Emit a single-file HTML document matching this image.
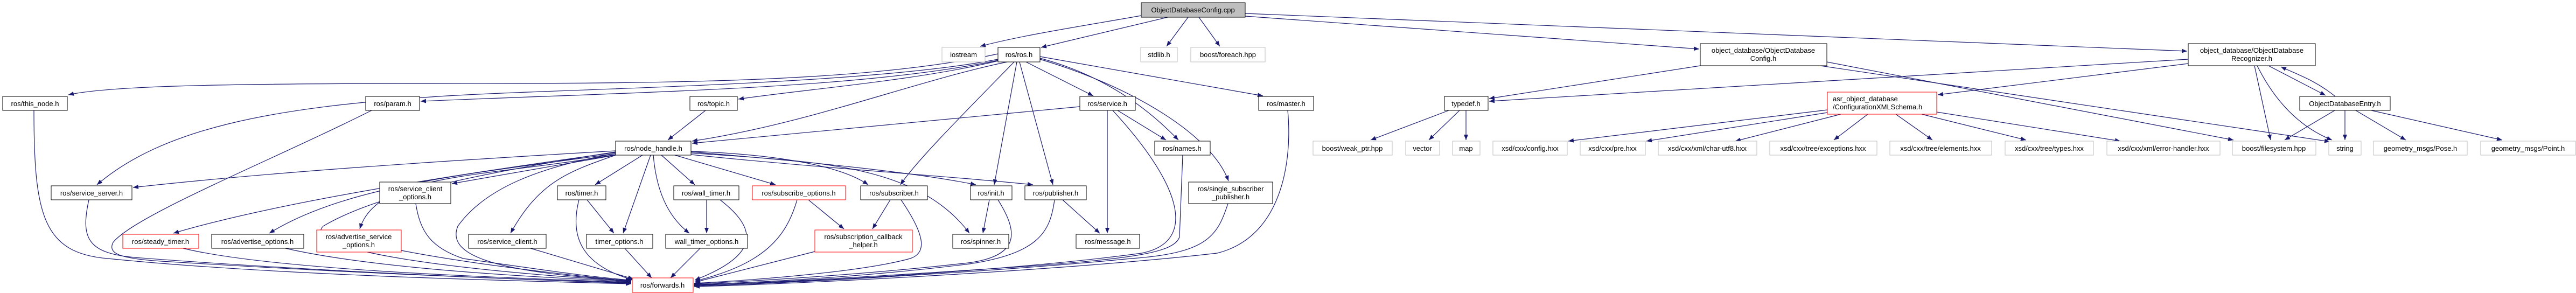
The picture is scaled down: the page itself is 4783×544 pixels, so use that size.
<!DOCTYPE html>
<html><head><meta charset="utf-8">
<style>
html,body{margin:0;padding:0;background:#fff;}
svg{display:block;}
text{font-family:"Liberation Sans",sans-serif;font-size:13px;fill:#000;}
.e{fill:none;stroke:#191970;stroke-width:1.2;marker-end:url(#a);}
.n{fill:#fff;stroke:#000;stroke-width:1;}
.r{fill:#fff;stroke:#ff0000;stroke-width:1;}
.g{fill:#fff;stroke:#bfbfbf;stroke-width:1;}
</style></head><body>
<svg width="4783" height="544" viewBox="0 0 4783 544" xmlns="http://www.w3.org/2000/svg">
<defs><marker id="a" markerUnits="userSpaceOnUse" markerWidth="11" markerHeight="8" refX="10" refY="4" orient="auto"><path d="M0,0 L10,4 L0,8 z" fill="#191970"/></marker></defs>
<!-- edges -->
<g>
<path class="e" d="M2119,29 C2000,50 1900,65 1820,86"/>
<path class="e" d="M2168,32 L1933,88"/>
<path class="e" d="M2206,32 L2166,86"/>
<path class="e" d="M2226,32 L2265,86"/>
<path class="e" d="M2312,30 L3155,91"/>
<path class="e" d="M2312,25 L4061,95"/>
<path class="e" d="M1853,100 C1600,155 1200,155 800,155 C400,155 200,160 127,176"/>
<path class="e" d="M1853,110 C1600,160 1000,165 800,180 C500,200 300,240 180,343"/>
<path class="e" d="M1853,112 C1600,165 1200,170 781,188"/>
<path class="e" d="M1853,113 C1700,150 1500,165 1371,184"/>
<path class="e" d="M1870,115 C1700,150 1500,230 1285,262"/>
<path class="e" d="M1883,115 C1800,200 1700,300 1672,343"/>
<path class="e" d="M1888,115 L1846,343"/>
<path class="e" d="M1893,115 L1955,343"/>
<path class="e" d="M1905,115 L2030,178"/>
<path class="e" d="M1931,108 C2050,140 2130,200 2188,260"/>
<path class="e" d="M1931,110 C2100,160 2250,250 2281,336"/>
<path class="e" d="M1931,105 L2345,178"/>
<path class="e" d="M2005,198 L1285,266"/>
<path class="e" d="M1310,205 L1240,260"/>
<path class="e" d="M2075,205 L2165,260"/>
<path class="e" d="M2056,205 L2056,433"/>
<path class="e" d="M1973,371 L2042,433"/>
<path class="e" d="M1837,371 L1825,433"/>
<path class="e" d="M1653,371 L1620,425"/>
<path class="e" d="M1501,371 L1567,425"/>
<path class="e" d="M1090,371 L1140,433"/>
<path class="e" d="M1312,371 L1312,433"/>
<path class="e" d="M1143,280 C800,300 500,320 247,348"/>
<path class="e" d="M1143,283 C800,330 500,380 322,433"/>
<path class="e" d="M1143,285 C900,320 650,340 500,433"/>
<path class="e" d="M1143,287 C900,330 700,320 668,425"/>
<path class="e" d="M1143,288 L839,341"/>
<path class="e" d="M1143,288 C1050,320 1000,340 948,433"/>
<path class="e" d="M1193,288 L1105,343"/>
<path class="e" d="M1208,288 L1157,433"/>
<path class="e" d="M1213,288 C1220,370 1250,410 1280,433"/>
<path class="e" d="M1228,288 L1290,343"/>
<path class="e" d="M1253,288 L1440,343"/>
<path class="e" d="M1283,281 C1400,285 1550,300 1612,343"/>
<path class="e" d="M1283,282 C1500,300 1700,320 1812,343"/>
<path class="e" d="M1283,287 C1500,310 1800,330 1918,343"/>
<path class="e" d="M1283,284 C1500,300 1700,300 1800,433"/>
<path class="e" d="M1143,285 C1000,310 900,350 850,420 C830,470 900,505 1172,521"/>
<path class="e" d="M1143,282 C900,320 700,360 600,420 C560,460 800,500 1172,522"/>
<path class="e" d="M63,205 C63,400 80,470 200,480 C500,510 900,520 1172,527"/>
<path class="e" d="M165,371 C150,440 160,470 250,478 C600,505 1000,520 1172,526"/>
<path class="e" d="M690,205 C500,300 250,400 210,450 C200,470 220,480 300,485 C700,510 1000,520 1172,525"/>
<path class="e" d="M340,461 C500,500 900,515 1172,524"/>
<path class="e" d="M530,461 C700,500 1000,515 1172,523"/>
<path class="e" d="M745,465 C900,495 1100,515 1172,522"/>
<path class="e" d="M772,378 C780,430 800,460 860,480 C1000,500 1100,515 1172,520"/>
<path class="e" d="M985,461 L1176,518"/>
<path class="e" d="M1075,371 C1060,430 1070,490 1176,520"/>
<path class="e" d="M1160,461 L1210,516"/>
<path class="e" d="M1300,461 L1245,516"/>
<path class="e" d="M1337,371 C1400,420 1420,470 1290,520"/>
<path class="e" d="M1480,371 C1460,440 1420,490 1290,522"/>
<path class="e" d="M1513,467 L1290,524"/>
<path class="e" d="M1673,371 C1720,440 1720,470 1690,480 C1600,505 1400,520 1289,526"/>
<path class="e" d="M1853,371 C1890,430 1900,480 1780,490 C1600,510 1400,522 1289,527"/>
<path class="e" d="M1958,371 C1950,430 1930,470 1800,490 C1600,515 1400,525 1289,528"/>
<path class="e" d="M2066,205 C2200,350 2220,450 2120,470 C1900,500 1500,525 1289,529"/>
<path class="e" d="M2196,288 L2190,440 C2180,470 2100,480 1900,495 C1600,515 1400,526 1289,530"/>
<path class="e" d="M2280,378 C2260,440 2240,470 2100,480 C1900,500 1500,525 1289,531"/>
<path class="e" d="M2391,205 C2400,300 2380,440 2260,470 C2000,500 1500,527 1289,532"/>
<path class="e" d="M3157,122 L2765,183"/>
<path class="e" d="M3392,115 L4147,260"/>
<path class="e" d="M3380,122 L4326,263"/>
<path class="e" d="M4063,110 L2765,188"/>
<path class="e" d="M4063,118 L3598,176"/>
<path class="e" d="M4212,122 L4318,177"/>
<path class="e" d="M4336,179 C4300,150 4270,140 4235,124"/>
<path class="e" d="M4186,122 L4216,260"/>
<path class="e" d="M4191,122 C4230,200 4280,240 4330,260"/>
<path class="e" d="M4335,205 L4242,260"/>
<path class="e" d="M4354,205 L4354,260"/>
<path class="e" d="M4374,205 L4467,260"/>
<path class="e" d="M4403,205 L4646,260"/>
<path class="e" d="M2690,205 L2545,260"/>
<path class="e" d="M2710,205 L2653,260"/>
<path class="e" d="M2722,205 L2722,260"/>
<path class="e" d="M3393,204 L2912,262"/>
<path class="e" d="M3393,209 L3057,262"/>
<path class="e" d="M3418,212 L3222,262"/>
<path class="e" d="M3468,212 L3405,260"/>
<path class="e" d="M3520,212 L3588,260"/>
<path class="e" d="M3568,212 L3762,260"/>
<path class="e" d="M3596,208 L3937,262"/>
</g>
<!-- nodes -->
<g>
<rect x="2119" y="5" width="193" height="27" fill="#bfbfbf" stroke="#000"/><text x="2215" y="23" text-anchor="middle">ObjectDatabaseConfig.cpp</text>
<rect class="g" x="1749" y="88" width="80" height="27"/><text x="1789" y="106" text-anchor="middle">iostream</text>
<rect class="n" x="1853" y="88" width="78" height="27"/><text x="1892" y="106" text-anchor="middle">ros/ros.h</text>
<rect class="g" x="2118" y="88" width="68" height="27"/><text x="2152" y="106" text-anchor="middle">stdlib.h</text>
<rect class="g" x="2211" y="88" width="138" height="27"/><text x="2280" y="106" text-anchor="middle">boost/foreach.hpp</text>
<rect class="n" x="3157" y="81" width="235" height="41"/><text x="3274" y="98" text-anchor="middle">object_database/ObjectDatabase</text><text x="3274" y="113" text-anchor="middle">Config.h</text>
<rect class="n" x="4063" y="81" width="236" height="41"/><text x="4181" y="98" text-anchor="middle">object_database/ObjectDatabase</text><text x="4181" y="113" text-anchor="middle">Recognizer.h</text>
<rect class="n" x="5" y="179" width="120" height="26"/><text x="65" y="197" text-anchor="middle">ros/this_node.h</text>
<rect class="n" x="679" y="179" width="100" height="26"/><text x="729" y="197" text-anchor="middle">ros/param.h</text>
<rect class="n" x="1281" y="179" width="88" height="26"/><text x="1325" y="197" text-anchor="middle">ros/topic.h</text>
<rect class="n" x="2005" y="179" width="103" height="26"/><text x="2056" y="197" text-anchor="middle">ros/service.h</text>
<rect class="n" x="2337" y="179" width="102" height="26"/><text x="2388" y="197" text-anchor="middle">ros/master.h</text>
<rect class="n" x="2682" y="179" width="81" height="26"/><text x="2722" y="197" text-anchor="middle">typedef.h</text>
<rect class="r" x="3393" y="171" width="203" height="41"/><text x="3403" y="188">asr_object_database</text><text x="3403" y="203">/ConfigurationXMLSchema.h</text>
<rect class="n" x="4270" y="179" width="168" height="26"/><text x="4354" y="197" text-anchor="middle">ObjectDatabaseEntry.h</text>
<rect class="n" x="1143" y="262" width="140" height="26"/><text x="1213" y="280" text-anchor="middle">ros/node_handle.h</text>
<rect class="n" x="2144" y="262" width="103" height="26"/><text x="2195" y="280" text-anchor="middle">ros/names.h</text>
<rect class="g" x="2438" y="262" width="147" height="26"/><text x="2511" y="280" text-anchor="middle">boost/weak_ptr.hpp</text>
<rect class="g" x="2610" y="262" width="63" height="26"/><text x="2641" y="280" text-anchor="middle">vector</text>
<rect class="g" x="2697" y="262" width="51" height="26"/><text x="2722" y="280" text-anchor="middle">map</text>
<rect class="g" x="2772" y="262" width="138" height="26"/><text x="2841" y="280" text-anchor="middle">xsd/cxx/config.hxx</text>
<rect class="g" x="2934" y="262" width="121" height="26"/><text x="2994" y="280" text-anchor="middle">xsd/cxx/pre.hxx</text>
<rect class="g" x="3079" y="262" width="183" height="26"/><text x="3170" y="280" text-anchor="middle">xsd/cxx/xml/char-utf8.hxx</text>
<rect class="g" x="3286" y="262" width="199" height="26"/><text x="3385" y="280" text-anchor="middle">xsd/cxx/tree/exceptions.hxx</text>
<rect class="g" x="3509" y="262" width="189" height="26"/><text x="3603" y="280" text-anchor="middle">xsd/cxx/tree/elements.hxx</text>
<rect class="g" x="3723" y="262" width="164" height="26"/><text x="3805" y="280" text-anchor="middle">xsd/cxx/tree/types.hxx</text>
<rect class="g" x="3912" y="262" width="210" height="26"/><text x="4017" y="280" text-anchor="middle">xsd/cxx/xml/error-handler.hxx</text>
<rect class="g" x="4145" y="262" width="155" height="26"/><text x="4222" y="280" text-anchor="middle">boost/filesystem.hpp</text>
<rect class="g" x="4324" y="262" width="60" height="26"/><text x="4354" y="280" text-anchor="middle">string</text>
<rect class="g" x="4407" y="262" width="174" height="26"/><text x="4494" y="280" text-anchor="middle">geometry_msgs/Pose.h</text>
<rect class="g" x="4606" y="262" width="176" height="26"/><text x="4694" y="280" text-anchor="middle">geometry_msgs/Point.h</text>
<rect class="n" x="95" y="345" width="150" height="26"/><text x="170" y="363" text-anchor="middle">ros/service_server.h</text>
<rect class="n" x="705" y="338" width="132" height="40"/><text x="771" y="355" text-anchor="middle">ros/service_client</text><text x="771" y="370" text-anchor="middle">_options.h</text>
<rect class="n" x="1035" y="345" width="90" height="26"/><text x="1080" y="363" text-anchor="middle">ros/timer.h</text>
<rect class="n" x="1251" y="345" width="121" height="26"/><text x="1311" y="363" text-anchor="middle">ros/wall_timer.h</text>
<rect class="r" x="1397" y="345" width="173" height="26"/><text x="1483" y="363" text-anchor="middle">ros/subscribe_options.h</text>
<rect class="n" x="1598" y="345" width="124" height="26"/><text x="1660" y="363" text-anchor="middle">ros/subscriber.h</text>
<rect class="n" x="1802" y="345" width="77" height="26"/><text x="1840" y="363" text-anchor="middle">ros/init.h</text>
<rect class="n" x="1903" y="345" width="114" height="26"/><text x="1960" y="363" text-anchor="middle">ros/publisher.h</text>
<rect class="n" x="2207" y="338" width="156" height="40"/><text x="2285" y="355" text-anchor="middle">ros/single_subscriber</text><text x="2285" y="370" text-anchor="middle">_publisher.h</text>
<rect class="r" x="228" y="435" width="141" height="26"/><text x="298" y="453" text-anchor="middle">ros/steady_timer.h</text>
<rect class="n" x="393" y="435" width="171" height="26"/><text x="478" y="453" text-anchor="middle">ros/advertise_options.h</text>
<rect class="r" x="588" y="427" width="157" height="41"/><text x="666" y="444" text-anchor="middle">ros/advertise_service</text><text x="666" y="459" text-anchor="middle">_options.h</text>
<rect class="n" x="870" y="435" width="144" height="26"/><text x="942" y="453" text-anchor="middle">ros/service_client.h</text>
<rect class="n" x="1089" y="435" width="123" height="26"/><text x="1150" y="453" text-anchor="middle">timer_options.h</text>
<rect class="n" x="1236" y="435" width="152" height="26"/><text x="1312" y="453" text-anchor="middle">wall_timer_options.h</text>
<rect class="r" x="1513" y="427" width="181" height="41"/><text x="1603" y="444" text-anchor="middle">ros/subscription_callback</text><text x="1603" y="459" text-anchor="middle">_helper.h</text>
<rect class="n" x="1769" y="435" width="104" height="26"/><text x="1821" y="453" text-anchor="middle">ros/spinner.h</text>
<rect class="n" x="1998" y="435" width="118" height="26"/><text x="2057" y="453" text-anchor="middle">ros/message.h</text>
<rect class="r" x="1174" y="516" width="113" height="27"/><text x="1230" y="534" text-anchor="middle">ros/forwards.h</text>
</g>
</svg>
</body></html>
